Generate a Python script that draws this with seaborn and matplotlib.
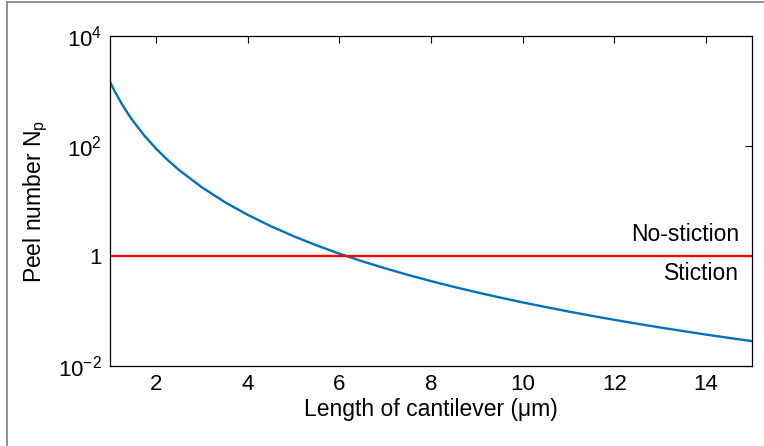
import numpy as np
import pandas as pd
import matplotlib
matplotlib.use("Agg")
import matplotlib.pyplot as plt
from matplotlib.lines import Line2D
import seaborn as sns

# values
length_um = [1, 1.1, 1.25, 1.4, 1.5, 1.75, 2, 2.25, 2.5, 3, 3.5, 4, 4.5, 5, 5.5, 6, 6.5, 7, 7.5,
             8, 8.5, 9, 9.5, 10, 10.5, 11, 11.5, 12, 12.5, 13, 13.5, 14, 14.5, 15]
peel_number = [1430, 977, 586, 372, 283, 152, 89.4, 55.8, 36.6, 17.7, 9.53, 5.59, 3.49, 2.29,
               1.56, 1.10, 0.80, 0.596, 0.452, 0.349, 0.274, 0.218, 0.176, 0.143, 0.118,
               0.0977, 0.0818, 0.069, 0.0586, 0.0501, 0.0431, 0.0372, 0.0324, 0.0283]
threshold = 1
x_ticks = [2, 4, 6, 8, 10, 12, 14]
y_ticks = [1e-2, 1, 1e2, 1e4]
y_tick_labels = [r"$\mathregular{10^{-2}}$", "1", r"$\mathregular{10^{2}}$", r"$\mathregular{10^{4}}$"]

sns.set_style("white")
plt.rcParams["font.family"] = ["Liberation Sans", "DejaVu Sans"]
plt.rcParams["mathtext.fontset"] = "custom"
plt.rcParams["mathtext.rm"] = "Liberation Sans"
plt.rcParams["mathtext.it"] = "Liberation Sans:italic"
plt.rcParams["text.color"] = "black"
plt.rcParams["axes.labelcolor"] = "black"

df = pd.DataFrame({"L": length_um, "Np": peel_number})

fig = plt.figure(figsize=(7.64, 4.46), dpi=100)
ax = fig.add_axes([0.1443, 0.1794, 0.8400, 0.7399])

sns.lineplot(data=df, x="L", y="Np", ax=ax, color="#0072BD", linewidth=1.7)
ax.axhline(threshold, color="#FF0000", linewidth=1.7)

ax.set_yscale("log")
ax.set_xlim(1, 15)
ax.set_ylim(1e-2, 1e4)
ax.set_xticks(x_ticks)
ax.set_xticklabels([str(t) for t in x_ticks])
ax.set_yticks(y_ticks)
ax.set_yticklabels(y_tick_labels)
ax.minorticks_off()
ax.yaxis.set_minor_locator(matplotlib.ticker.NullLocator())

ax.tick_params(direction="in", length=5, width=0.8, top=True, right=True,
               labelsize=16, pad=6, colors="black")
for s in ax.spines.values():
    s.set_visible(True)
    s.set_color("black")
    s.set_linewidth(0.9)

ax.set_xlabel("Length of cantilever (μm)", fontsize=16.5, labelpad=2, color="black")
ax.set_ylabel(r"Peel number N$_\mathregular{p}$", fontsize=16.5, labelpad=6, color="black")

ax.text(14.72, 2.5, "No-stiction", ha="right", va="center", fontsize=16.5, color="black")
ax.text(14.72, 0.49, "Stiction", ha="right", va="center", fontsize=16.5, color="black")

# grey frame of the original figure window
fig.add_artist(Line2D([7 / 764, 7 / 764], [0, 1 - 2 / 446], transform=fig.transFigure,
                      color="#7f7f7f", linewidth=1.2))
fig.add_artist(Line2D([7 / 764, 1], [1 - 2 / 446, 1 - 2 / 446], transform=fig.transFigure,
                      color="#7f7f7f", linewidth=1.2))

fig.savefig("out.png", dpi=100)
plt.close(fig)
